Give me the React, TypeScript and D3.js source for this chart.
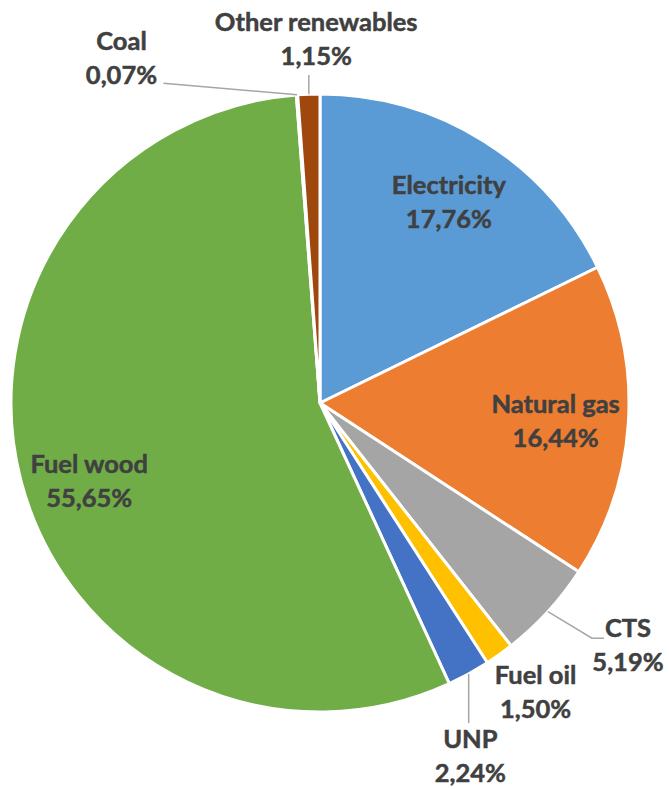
import React, { useEffect, useRef } from 'react';
import * as d3 from 'd3';

const categories = ['Electricity', 'Natural gas', 'CTS', 'Fuel oil', 'UNP', 'Fuel wood', 'Coal', 'Other renewables'];
const shares = [17.76, 16.44, 5.19, 1.5, 2.24, 55.65, 0.07, 1.15];
const shareLabels = ['17,76%', '16,44%', '5,19%', '1,50%', '2,24%', '55,65%', '0,07%', '1,15%'];
const colors = ['#5B9BD5', '#ED7D31', '#A5A5A5', '#FFC000', '#4472C4', '#70AD47', '#264478', '#9E480E'];

// label placement: angle (deg, clockwise from top) and distance as fraction of radius
const labelPos = [
  { a: 32.8, k: 0.77, line: false },
  { a: 94.6, k: 0.765, line: false },
  { a: 128.3, k: 1.27, line: true },
  { a: 143.4, k: 1.17, line: false },
  { a: 157, k: 1.245, line: true },
  { a: 251, k: 0.79, line: false },
  { a: 330, k: 1.285, line: true },
  { a: 359.4, k: 1.175, line: true },
];

const App: React.FC = () => {
  const svgRef = useRef<SVGSVGElement>(null);

  useEffect(() => {
    if (!svgRef.current) return;
    const svg = d3.select(svgRef.current);
    svg.selectAll('*').remove();

    const cx = 320;
    const cy = 403;
    const r = 309;
    const font = 'Lato, "Open Sans", sans-serif';

    const data = categories.map((c, i) => ({ name: c, value: shares[i], label: shareLabels[i], color: colors[i] }));
    const pie = d3.pie<typeof data[0]>().sort(null).value(d => d.value);
    const arcs = pie(data);
    const arc = d3.arc<d3.PieArcDatum<typeof data[0]>>().innerRadius(0).outerRadius(r);

    const g = svg.append('g').attr('transform', `translate(${cx},${cy})`);

    g.selectAll('path')
      .data(arcs)
      .join('path')
      .attr('d', arc)
      .attr('fill', d => d.data.color)
      .attr('stroke', '#fff')
      .attr('stroke-width', 3)
      .attr('stroke-linejoin', 'round');

    const polar = (deg: number, rad: number) => {
      const t = (deg * Math.PI) / 180;
      return [rad * Math.sin(t), -rad * Math.cos(t)];
    };

    // leader lines
    arcs.forEach((d, i) => {
      const p = labelPos[i];
      if (!p.line) return;
      const mid = ((d.startAngle + d.endAngle) / 2) * 180 / Math.PI;
      const [x0, y0] = polar(mid, r);
      const [lx, ly] = polar(p.a, r * p.k);
      let pts: [number, number][] = [];
      if (d.data.name === 'CTS') {
        pts = [[x0, y0], [lx - 36, ly - 8], [lx - 24, ly - 8]];
      } else if (d.data.name === 'UNP') {
        pts = [[x0, y0], [x0, ly - 34]];
      } else if (d.data.name === 'Coal') {
        pts = [[x0, y0], [lx + 42, ly + 24]];
      } else {
        pts = [[x0, y0], [x0, ly + 35]];
      }
      g.append('path')
        .attr('d', d3.line()(pts))
        .attr('fill', 'none')
        .attr('stroke', '#A6A6A6')
        .attr('stroke-width', 1.5);
    });

    // labels
    arcs.forEach((d, i) => {
      const p = labelPos[i];
      const [lx, ly] = polar(p.a, r * p.k);
      const t = g.append('text')
        .attr('text-anchor', 'middle')
        .attr('font-family', font)
        .attr('font-weight', 700)
        .attr('font-size', 25.5)
        .attr('fill', '#404040')
        .attr('stroke', '#404040')
        .attr('stroke-width', 0.5);
      t.append('tspan').attr('x', lx).attr('y', ly - 9).text(d.data.name);
      t.append('tspan').attr('x', lx).attr('y', ly + 25).text(d.data.label);
    });
  }, []);

  return (
    <svg ref={svgRef} width={669} height={789} style={{ position: 'absolute', left: 0, top: 0, background: '#fff' }} />
  );
};

export default App;
